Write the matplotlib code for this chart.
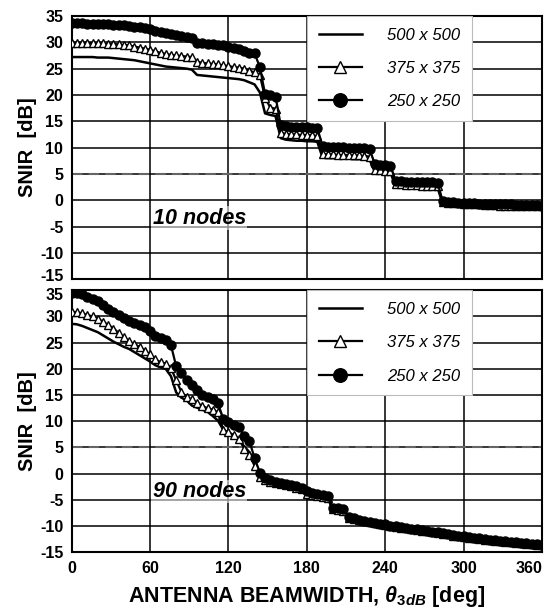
import numpy as np
import matplotlib
matplotlib.use("Agg")
import matplotlib.pyplot as plt
from matplotlib.transforms import ScaledTranslation

plt.rcParams['font.family'] = ['Liberation Sans', 'DejaVu Sans']
plt.rcParams['axes.unicode_minus'] = False
plt.rcParams['mathtext.fontset'] = 'custom'
plt.rcParams['mathtext.it'] = 'Liberation Sans:italic:bold'
plt.rcParams['mathtext.rm'] = 'Liberation Sans:bold'

# beamwidth (deg)
beamwidth = list(range(0, 361, 4))

# ---- 10 nodes ----
snir_10_500 = [
    27.2, 27.2, 27.2, 27.2, 27.2, 27.1, 27.1, 27.1, 27.0, 26.9,
    26.8, 26.7, 26.6, 26.4, 26.2, 26.0, 25.8, 25.6, 25.4, 25.3,
    25.2, 25.1, 25.0, 24.8, 23.8, 23.7, 23.6, 23.5, 23.4, 23.3,
    23.2, 23.1, 23.0, 22.8, 22.4, 22.0, 20.5, 16.5, 16.2, 16.0,
    11.8, 11.5, 11.4, 11.3, 11.3, 11.2, 11.2, 11.1, 8.1, 8.0,
    8.0, 7.9, 7.9, 7.9, 7.8, 7.8, 7.8, 7.7, 5.4, 5.3,
    5.3, 5.2, 2.7, 2.7, 2.6, 2.6, 2.6, 2.5, 2.5, 2.5,
    2.4, -0.7, -0.8, -0.9, -0.9, -1.0, -1.0, -1.1, -1.1, -1.1,
    -1.2, -1.2, -1.2, -1.3, -1.3, -1.3, -1.3, -1.4, -1.4, -1.4,
    -1.4,
]
snir_10_375 = [
    29.9, 29.9, 29.9, 29.9, 29.8, 29.8, 29.8, 29.7, 29.7, 29.6,
    29.5, 29.4, 29.2, 29.0, 28.8, 28.6, 28.3, 28.0, 27.8, 27.6,
    27.5, 27.4, 27.3, 27.2, 26.3, 26.1, 26.0, 25.9, 25.8, 25.6,
    25.5, 25.3, 25.2, 25.0, 24.6, 24.3, 23.8, 19.5, 17.6, 17.4,
    12.8, 12.6, 12.5, 12.5, 12.4, 12.4, 12.3, 12.2, 8.8, 8.7,
    8.7, 8.6, 8.6, 8.6, 8.5, 8.5, 8.4, 8.3, 5.8, 5.7,
    5.6, 5.5, 3.0, 3.0, 2.9, 2.9, 2.9, 2.8, 2.8, 2.8,
    2.7, -0.4, -0.5, -0.6, -0.6, -0.7, -0.7, -0.8, -0.8, -0.9,
    -0.9, -0.9, -1.0, -1.0, -1.0, -1.0, -1.1, -1.1, -1.1, -1.1,
    -1.1,
]
snir_10_250 = [
    33.6, 33.6, 33.6, 33.5, 33.5, 33.5, 33.4, 33.4, 33.3, 33.3,
    33.2, 33.1, 33.0, 32.9, 32.7, 32.5, 32.2, 32.0, 31.8, 31.6,
    31.4, 31.2, 31.0, 30.9, 29.9, 29.8, 29.7, 29.6, 29.5, 29.4,
    29.2, 29.0, 28.7, 28.3, 28.0, 27.9, 25.3, 20.2, 19.9, 19.7,
    14.3, 14.1, 14.0, 14.0, 13.9, 13.9, 13.8, 13.7, 10.3, 10.2,
    10.2, 10.1, 10.1, 10.0, 10.0, 10.0, 9.9, 9.8, 6.8, 6.7,
    6.6, 6.5, 3.6, 3.6, 3.5, 3.5, 3.5, 3.4, 3.4, 3.4,
    3.3, -0.2, -0.3, -0.4, -0.5, -0.5, -0.6, -0.6, -0.7, -0.7,
    -0.7, -0.8, -0.8, -0.8, -0.8, -0.9, -0.9, -0.9, -0.9, -0.9,
    -1.0,
]

# ---- 90 nodes ----
snir_90_500 = [
    28.6, 28.5, 28.2, 27.8, 27.4, 27.0, 26.4, 25.8, 25.2, 24.7,
    24.2, 23.8, 23.2, 22.6, 22.0, 21.4, 20.7, 20.3, 20.0, 18.6,
    15.5, 14.5, 14.0, 13.0, 12.6, 12.2, 11.8, 11.0, 10.1, 8.4,
    7.6, 7.0, 6.4, 5.2, 4.1, 2.5, -0.7, -1.3, -1.6, -1.9,
    -2.1, -2.3, -2.5, -2.8, -3.1, -3.9, -4.1, -4.3, -4.5, -4.7,
    -6.9, -7.0, -7.2, -8.5, -8.7, -9.0, -9.2, -9.4, -9.6, -9.8,
    -9.9, -10.1, -10.2, -10.4, -10.5, -10.7, -10.8, -11.0, -11.1, -11.3,
    -11.4, -11.6, -11.7, -11.9, -12.0, -12.1, -12.3, -12.4, -12.5, -12.7,
    -12.8, -12.9, -13.0, -13.1, -13.2, -13.3, -13.4, -13.5, -13.6, -13.7,
    -13.8,
]
snir_90_375 = [
    30.9, 30.8, 30.6, 30.3, 30.0, 29.6, 29.0, 28.4, 27.7, 26.9,
    26.0, 25.3, 24.7, 24.2, 23.5, 22.8, 21.8, 21.3, 21.0, 20.2,
    17.8, 15.6, 14.6, 14.2, 13.5, 12.9, 12.5, 12.2, 11.7, 8.4,
    7.9, 7.4, 6.7, 4.8, 3.6, 1.5, -0.6, -1.2, -1.5, -1.8,
    -2.0, -2.2, -2.4, -2.7, -3.0, -3.8, -4.0, -4.2, -4.4, -4.6,
    -6.8, -6.9, -7.1, -8.4, -8.6, -8.9, -9.1, -9.3, -9.5, -9.7,
    -9.8, -10.0, -10.1, -10.3, -10.4, -10.6, -10.7, -10.9, -11.0, -11.2,
    -11.3, -11.5, -11.6, -11.8, -11.9, -12.0, -12.2, -12.3, -12.4, -12.6,
    -12.7, -12.8, -12.9, -13.0, -13.1, -13.2, -13.3, -13.4, -13.5, -13.6,
    -13.7,
]
snir_90_250 = [
    34.5, 34.4, 34.2, 33.8, 33.4, 32.9, 32.2, 31.5, 30.9, 30.3,
    29.7, 29.2, 28.7, 28.3, 27.9, 27.2, 26.3, 25.9, 25.6, 24.5,
    20.5, 19.3, 17.8, 17.0, 16.0, 15.1, 14.7, 14.2, 13.4, 10.5,
    9.8, 9.3, 8.9, 7.2, 6.2, 3.0, 0.2, -0.8, -1.2, -1.5,
    -1.7, -1.9, -2.1, -2.4, -2.7, -3.4, -3.6, -3.8, -4.0, -4.3,
    -6.5, -6.6, -6.8, -8.2, -8.5, -8.8, -9.0, -9.2, -9.4, -9.6,
    -9.7, -9.9, -10.0, -10.2, -10.3, -10.5, -10.6, -10.8, -10.9, -11.1,
    -11.2, -11.4, -11.5, -11.7, -11.8, -11.9, -12.1, -12.2, -12.3, -12.5,
    -12.6, -12.7, -12.8, -12.9, -13.0, -13.1, -13.2, -13.3, -13.4, -13.5,
    -13.6,
]

labels = ['500 x 500', '375 x 375', '250 x 250']
panel_text = ['10 nodes', '90 nodes']

fig = plt.figure(figsize=(5.47, 6.15), dpi=100)
ax1 = fig.add_axes([0.131, 0.546, 0.860, 0.428])
ax2 = fig.add_axes([0.131, 0.102, 0.860, 0.426])

panels = [(ax1, snir_10_500, snir_10_375, snir_10_250),
          (ax2, snir_90_500, snir_90_375, snir_90_250)]

for k, (ax, s500, s375, s250) in enumerate(panels):
    ax.plot(beamwidth, s500, color='black', lw=1.8, label=labels[0], zorder=3)
    ax.plot(beamwidth, s375, color='black', lw=1.6, marker='^', ms=5.5,
            mfc='white', mec='black', mew=1.0, label=labels[1], zorder=4)
    ax.plot(beamwidth, s250, color='black', lw=1.6, marker='o', ms=6.5,
            mfc='black', mec='black', label=labels[2], zorder=5)

    ax.axhline(5, color='#666666', lw=1.5, ls=(0, (5, 3)), zorder=2)

    ax.set_xlim(0, 360)
    ax.set_ylim(-15, 35)
    ax.set_xticks(range(0, 361, 60))
    ax.set_yticks(range(-15, 36, 5))
    ax.grid(True, color='black', lw=1.1, zorder=1)
    ax.set_axisbelow(True)
    ax.tick_params(length=0, labelsize=11.5, pad=6)
    for lab in ax.get_yticklabels() + ax.get_xticklabels():
        lab.set_fontweight('bold')
    for sp in ax.spines.values():
        sp.set_linewidth(1.5)
    ax.set_ylabel('SNIR  [dB]', fontsize=14.5, fontweight='bold', labelpad=2)

    ax.text(62, -3.4, panel_text[k], fontsize=15.5, fontweight='bold',
            style='italic', va='center', ha='left', zorder=6,
            bbox=dict(facecolor='white', edgecolor='none', alpha=0.55, pad=1))

    leg = ax.legend(loc='upper left', bbox_to_anchor=(0.5, 1.0),
                    prop={'style': 'italic', 'size': 12},
                    handlelength=2.6, handletextpad=1.5, labelspacing=1.1,
                    borderpad=0.7, borderaxespad=0, markerscale=1.5,
                    fancybox=False, framealpha=1, edgecolor='#bbbbbb')
    leg.get_frame().set_linewidth(0.8)
    leg.set_zorder(10)

# nudge the touching tick labels between the two panels apart
lab_low = ax1.get_yticklabels()[0]
lab_low.set_transform(lab_low.get_transform() +
                      ScaledTranslation(0, 3 / 72, fig.dpi_scale_trans))
lab_high = ax2.get_yticklabels()[-1]
lab_high.set_transform(lab_high.get_transform() +
                       ScaledTranslation(0, -3 / 72, fig.dpi_scale_trans))

ax1.set_xticklabels([])
ax2.get_xticklabels()[-1].set_horizontalalignment('right')
ax2.set_xlabel(r'ANTENNA BEAMWIDTH, $\theta_{\mathit{3dB}}$ [deg]',
               fontsize=15.5, fontweight='bold', labelpad=6)

fig.savefig('out.png', dpi=100)
